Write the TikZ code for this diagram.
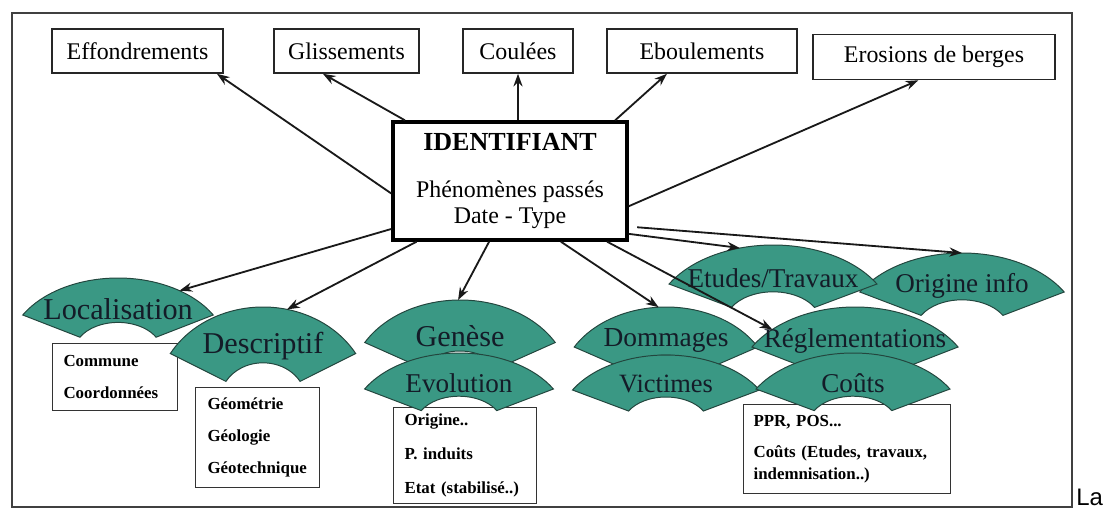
\documentclass[tikz,border=0pt]{standalone}
\usepackage{fontspec}
\setmainfont{Liberation Serif}
\newfontfamily\labelsans{Liberation Sans}
\usetikzlibrary{arrows.meta}

\definecolor{fanfill}{RGB}{58,152,132}
\definecolor{fanedge}{RGB}{35,70,62}
\definecolor{fanink}{RGB}{20,28,40}

\begin{document}
\begin{tikzpicture}[x=0.025cm,y=-0.025cm,
  topbox/.style={draw=black!85,line width=1.1pt,minimum height=1.1cm,inner sep=0pt,font=\fontsize{17}{20}\selectfont},
  idbox/.style={draw=black,line width=2.4pt,minimum width=5.85cm,minimum height=2.95cm,align=center,font=\fontsize{17}{18.5}\selectfont},
  infobox/.style={draw=black!80,line width=0.8pt,anchor=north west,align=left,inner ysep=0pt,font=\bfseries\fontsize{12}{23}\selectfont},
  fan/.style={fill=fanfill,draw=fanedge,line width=0.7pt},
  fanlabel/.style={text=fanink,inner sep=0pt},
  arr/.style={-{Stealth[length=9pt,width=6.5pt]},line width=1.3pt,draw=black!90},
  frame/.style={draw=black!75,line width=1.2pt}]

\useasboundingbox (0,0) rectangle (1104,509);
\draw[frame] (12,13) rectangle (1072,507);

% types de phenomenes
\node[topbox,minimum width=4.275cm] (eff) at (137.5,51) {Effondrements};
\node[topbox,minimum width=3.625cm] (gli) at (346.5,51) {Glissements};
\node[topbox,minimum width=2.75cm] (cou) at (518,51) {Coulées};
\node[topbox,minimum width=4.75cm] (ebo) at (702,51) {Eboulements};
\node[topbox,minimum width=6.05cm,minimum height=1.125cm] (ero) at (934,57) {Erosions de berges};

\node[idbox] (id) at (510,181) {{\bfseries\fontsize{18.5}{18.5}\selectfont IDENTIFIANT}\\[15pt]
  Phénomènes passés\\ Date - Type};

% boites de details
\node[infobox,text width=2.575cm,inner xsep=0.275cm,minimum height=1.675cm] (com) at (52,343)
  {Commune\\ Coordonnées};
\node[infobox,text width=2.5cm,inner xsep=0.3cm,minimum height=2.5cm] (geo) at (195,387)
  {Géométrie\\ Géologie\\ Géotechnique};
\node[infobox,text width=3.025cm,inner xsep=0.275cm,minimum height=2.4cm] (orig) at (393,407)
  {Origine..\\[1pt] P. induits\\[1pt] Etat (stabilisé..)};
\node[infobox,text width=4.675cm,inner xsep=0.25cm,minimum height=2.225cm,font=\bfseries\fontsize{12}{15.6}\selectfont] (ppr) at (743,404)
  {PPR, POS...\\[7pt] Coûts (Etudes, travaux,\\ indemnisation..)};

% eventails
\foreach \cx/\cy/\a/\b/\nm/\fs/\tip/\txt in {
  118/352/110/74/loc/21.5/304/Localisation,
  263/400/107/93/desc/21.5/283/Descriptif,
  460/385/110/85/gen/21.5/269/Genèse,
  459/425/109/72/evo/19.3/270/Evolution,
  666/387/106/80/dom/19.5/266/Dommages,
  855/387/119/80/reg/19.3/226/Réglementations,
  666/425/108/70/vic/18.8/270/Victimes,
  853/425/112/72/cout/19.3/270/Coûts,
  962/331/118/78/ori/19.3/270/Origine info,
  773/323/120/78/etu/19.3/254/{Etudes/Travaux}}{
  \begin{scope}[shift={(\cx,\cy)}]
    \filldraw[fan] (210:{\a} and {\b}) arc[start angle=210,end angle=330,x radius=\a,y radius=\b]
      -- (330:{0.4*\a} and {0.4*\b}) arc[start angle=330,end angle=210,x radius=0.4*\a,y radius=0.4*\b] -- cycle;
    \node[fanlabel,font=\fontsize{\fs}{\fs}\selectfont] (\nm) at (0,-0.58*\b) {\txt};
    \coordinate (\nm-tip) at (\tip:{\a} and {\b});
  \end{scope}}

% fleches
\foreach \s/\t in {id.186/eff.344, id.150/gli.224, id.30/ebo.213, id.348/ero.236,
  id.336/etu-tip, id.328/reg-tip, id.310/dom-tip, id.251/gen-tip, id.213/desc-tip, id.202/loc-tip}
  \draw[arr] (\s) -- (\t);
\draw[arr] (id.north -| cou.south) -- (cou.south);
\draw[arr,shorten <=6pt] (id.339) -- (ori-tip);

\node[font=\labelsans\fontsize{17}{17}\selectfont,anchor=base west,inner sep=0pt] (la) at (1076,505) {La};

\end{tikzpicture}
\end{document}
